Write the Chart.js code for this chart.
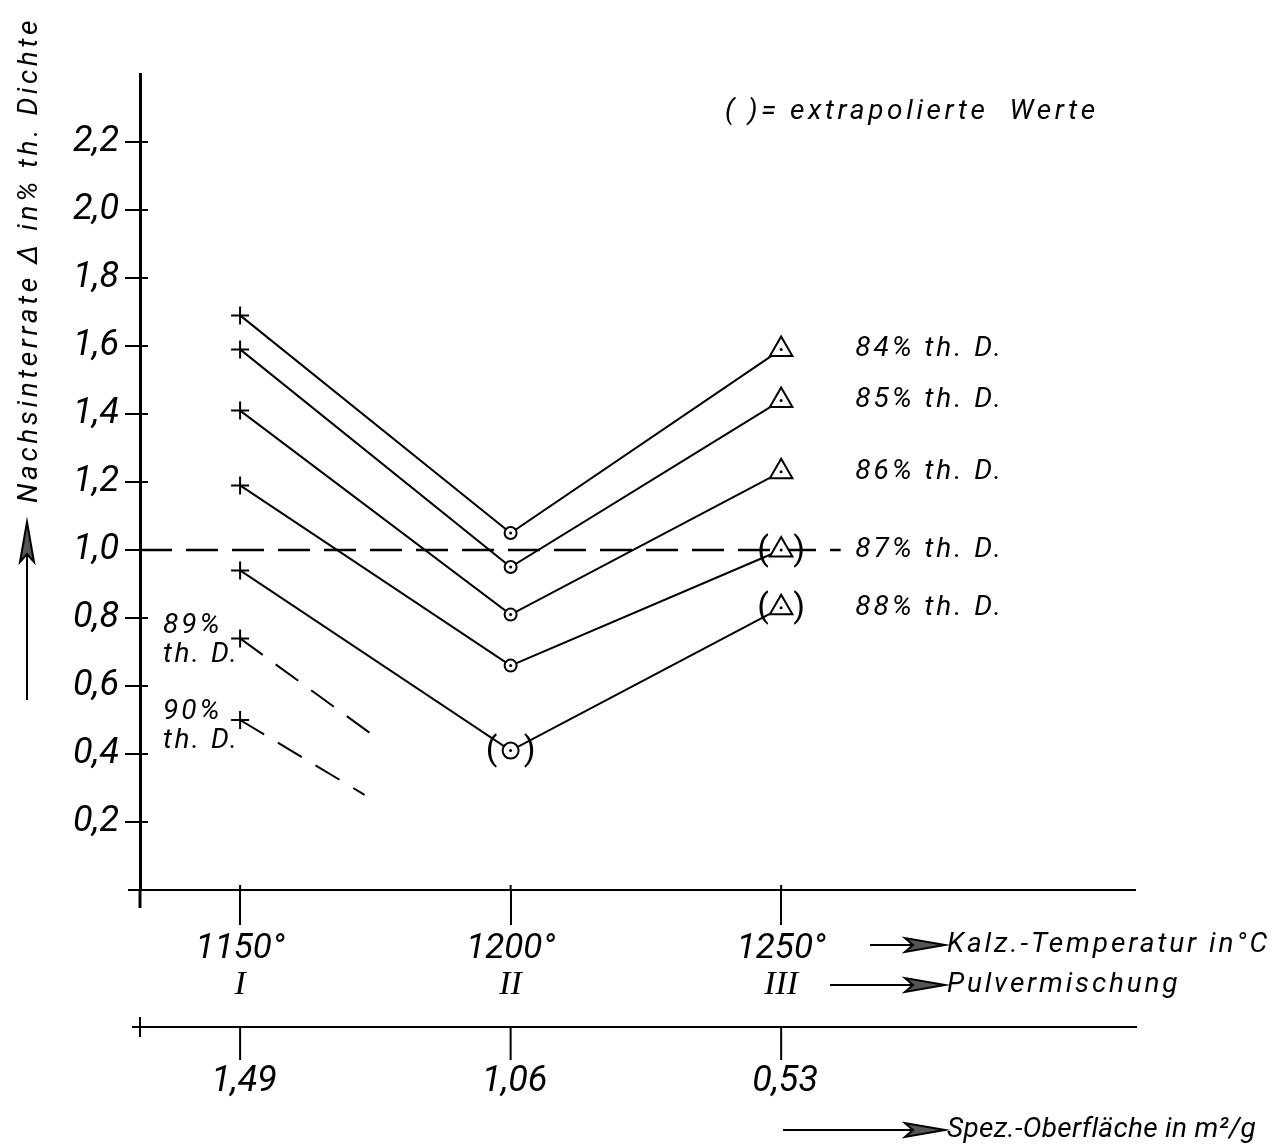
<!DOCTYPE html>
<html>
<head>
<meta charset="utf-8">
<script src="https://cdn.jsdelivr.net/npm/chart.js@4.4.1/dist/chart.umd.min.js"></script>
<style>
html, body { margin: 0; padding: 0; background: #fff; }
</style>
</head>
<body>
<canvas id="grafico" width="1284" height="1148"></canvas>
<script>
const FONTE = 'Roboto, "Liberation Sans", sans-serif';

// eixo x: temperatura de calcinação, mistura de pó, superfície específica
const temperaturas = [1150, 1200, 1250];
const rotulosTemp = ["1150°", "1200°", "1250°"];
const misturas = ["I", "II", "III"];
const superficies = ["1,49", "1,06", "0,53"];

// séries (Nachsinterrate em % th. Dichte)
const nomes = ["84% th. D.", "85% th. D.", "86% th. D.", "87% th. D.", "88% th. D."];
const v84 = [1.69, 1.05, 1.59];
const v85 = [1.59, 0.95, 1.44];
const v86 = [1.41, 0.81, 1.23];
const v87 = [1.19, 0.66, 1.00];
const v88 = [0.94, 0.41, 0.83];
const extr87 = [false, false, true];
const extr88 = [false, true, true];

// linhas tracejadas curtas (89% e 90%)
const x89 = [1150, 1175];
const v89 = [0.74, 0.45];
const x90 = [1150, 1173];
const v90 = [0.50, 0.28];

// linha de referência em 1,0
const xRef = [1131.5, 1261];
const vRef = [1.0, 1.0];

const series = [v84, v85, v86, v87, v88];
const extrapolados = [[false, false, false], [false, false, false], [false, false, false], extr87, extr88];

function pares(xs, ys) {
    return xs.map((x, i) => ({ x: x, y: ys[i] }));
}

const datasets = series.map((v, k) => ({
    label: nomes[k],
    data: pares(temperaturas, v),
    borderColor: "#000",
    borderWidth: 2,
    pointStyle: ["cross", "circle", "triangle"],
    pointRadius: [9, extrapolados[k][1] ? 8 : 6, 13],
    pointBorderWidth: 2,
    pointBorderColor: "#000",
    pointBackgroundColor: "#fff",
    tension: 0
}));

datasets.push({
    label: "89% th. D.",
    data: pares(x89, v89),
    borderColor: "#000",
    borderWidth: 2,
    borderDash: [28, 16],
    pointStyle: "cross",
    pointRadius: [9, 0],
    pointBorderWidth: 2,
    pointBorderColor: "#000"
});
datasets.push({
    label: "90% th. D.",
    data: pares(x90, v90),
    borderColor: "#000",
    borderWidth: 2,
    borderDash: [28, 16],
    pointStyle: "cross",
    pointRadius: [9, 0],
    pointBorderWidth: 2,
    pointBorderColor: "#000"
});
datasets.push({
    label: "1,0",
    data: pares(xRef, vRef),
    borderColor: "#000",
    borderWidth: 2.5,
    borderDash: [32, 14],
    pointRadius: 0
});

function escrever(ctx, s, x, y, tam, alinhar, espaco, estilo, familia) {
    ctx.save();
    ctx.font = (estilo || "italic") + " " + tam + "px " + (familia || FONTE);
    ctx.fillStyle = "#000";
    ctx.textAlign = alinhar || "left";
    ctx.textBaseline = "middle";
    ctx.letterSpacing = (espaco || 0) + "px";
    ctx.fillText(s, x, y);
    ctx.restore();
}

function linha(ctx, x1, y1, x2, y2, larg) {
    ctx.save();
    ctx.strokeStyle = "#000";
    ctx.lineWidth = larg || 2;
    ctx.beginPath();
    ctx.moveTo(x1, y1);
    ctx.lineTo(x2, y2);
    ctx.stroke();
    ctx.restore();
}

// seta desenhada à mão: haste + ponta estreita
function seta(ctx, x1, y1, x2, y2) {
    linha(ctx, x1, y1, x2, y2, 2);
    const ang = Math.atan2(y2 - y1, x2 - x1);
    const comp = 40, meia = 7;
    ctx.save();
    ctx.translate(x2, y2);
    ctx.rotate(ang);
    ctx.beginPath();
    ctx.moveTo(0, 0);
    ctx.lineTo(-comp, -meia);
    ctx.lineTo(-comp + 8, 0);
    ctx.lineTo(-comp, meia);
    ctx.closePath();
    ctx.fillStyle = "#555";
    ctx.fill();
    ctx.strokeStyle = "#000";
    ctx.lineWidth = 2;
    ctx.stroke();
    ctx.restore();
}

const anotacoes = {
    id: "anotacoes",
    afterDraw(chart) {
        const ctx = chart.ctx;
        const xs = chart.scales.x;
        const ys = chart.scales.y;
        const area = chart.chartArea;

        // prolongamentos dos eixos e marcas que cruzam o eixo y
        linha(ctx, area.left, area.bottom, area.left, area.bottom + 18, 3);
        linha(ctx, 128, area.bottom, area.left, area.bottom, 2);
        ys.ticks.forEach(t => {
            if (t.value > 0.01 && t.value < 2.3) {
                const py = ys.getPixelForValue(t.value);
                linha(ctx, area.left, py, area.left + 8, py, 2);
            }
        });
        temperaturas.forEach(t => {
            const px = xs.getPixelForValue(t);
            linha(ctx, px, area.bottom - 5, px, area.bottom, 2);
        });

        // pontos centrais nos círculos e triângulos, parênteses dos valores extrapolados
        series.forEach((v, k) => {
            const meta = chart.getDatasetMeta(k);
            [1, 2].forEach(i => {
                const p = meta.data[i];
                ctx.save();
                ctx.fillStyle = "#000";
                ctx.beginPath();
                ctx.arc(p.x, p.y, 1.5, 0, Math.PI * 2);
                ctx.fill();
                ctx.restore();
            });
            extrapolados[k].forEach((e, i) => {
                if (!e) return;
                const p = meta.data[i];
                const d = i === 1 ? 19 : 18;
                escrever(ctx, "(", p.x - d, p.y + 1, 34, "center", 0, "normal");
                escrever(ctx, ")", p.x + d, p.y + 1, 34, "center", 0, "normal");
            });
            const ult = meta.data[2];
            escrever(ctx, nomes[k], ult.x + 74, ult.y, 28, "left", 3);
        });

        // rótulos das linhas tracejadas
        const p89 = chart.getDatasetMeta(5).data[0];
        const p90 = chart.getDatasetMeta(6).data[0];
        escrever(ctx, "89%", 163, p89.y - 12, 28, "left", 3);
        escrever(ctx, "th. D.", 163, p89.y + 17, 28, "left", 2.5);
        escrever(ctx, "90%", 163, p90.y - 8, 28, "left", 3);
        escrever(ctx, "th. D.", 163, p90.y + 21, 28, "left", 2.5);

        // nota
        escrever(ctx, "(", 725, 112, 28, "left", 0);
        escrever(ctx, ")= extrapolierte  Werte", 748, 112, 28, "left", 3.6);

        // mistura de pó (algarismos romanos)
        temperaturas.forEach((t, i) => {
            const px = xs.getPixelForValue(t);
            escrever(ctx, misturas[i], px, 985, 34, "center", 0, "italic", '"Liberation Serif", serif');
        });

        // segundo eixo: superfície específica
        linha(ctx, 132, 1027, 1137, 1027, 2);
        linha(ctx, area.left, 1017, area.left, 1037, 2);
        temperaturas.forEach((t, i) => {
            const px = xs.getPixelForValue(t);
            linha(ctx, px, 1027, px, 1060, 2);
            escrever(ctx, superficies[i], px + 4, 1082, 36, "center", 0);
        });

        // títulos dos eixos com setas
        seta(ctx, 870, 945, 945, 945);
        escrever(ctx, "Kalz.-Temperatur in°C", 947, 945, 28, "left", 2.9);
        seta(ctx, 830, 985, 945, 985);
        escrever(ctx, "Pulvermischung", 947, 985, 28, "left", 2.8);
        seta(ctx, 783, 1130, 945, 1130);
        escrever(ctx, "Spez.-Oberfläche in m²/g", 947, 1130, 28, "left", 0.3);

        seta(ctx, 27, 700, 27, 522);
        ctx.save();
        ctx.translate(30, 260);
        ctx.rotate(-Math.PI / 2);
        escrever(ctx, "Nachsinterrate Δ in% th. Dichte", 0, 0, 28, "center", 3.6);
        ctx.restore();
    }
};

new Chart(document.getElementById("grafico"), {
    type: "line",
    data: { datasets: datasets },
    options: {
        responsive: false,
        animation: false,
        layout: { padding: { left: 0, right: 149, top: 74, bottom: 158 } },
        plugins: {
            legend: { display: false },
            tooltip: { enabled: false }
        },
        scales: {
            x: {
                type: "linear",
                min: 1131.5,
                max: 1315.4,
                afterBuildTicks: scale => { scale.ticks = temperaturas.map(v => ({ value: v })); },
                afterFit: scale => { scale.height = 100; },
                ticks: {
                    autoSkip: false,
                    maxRotation: 0,
                    padding: 3,
                    color: "#000",
                    font: { family: FONTE, size: 35, style: "italic" },
                    callback: v => rotulosTemp[temperaturas.indexOf(v)]
                },
                grid: { drawOnChartArea: false, tickLength: 35, color: "#000", lineWidth: 2 },
                border: { color: "#000", width: 2 }
            },
            y: {
                min: 0,
                max: 2.4,
                afterFit: scale => { scale.width = 140; },
                ticks: {
                    stepSize: 0.2,
                    padding: 6,
                    color: "#000",
                    font: { family: FONTE, size: 36, style: "italic" },
                    callback: v => (v > 0.01 && v < 2.3) ? v.toFixed(1).replace(".", ",") : ""
                },
                grid: {
                    drawOnChartArea: false,
                    tickLength: 15,
                    lineWidth: 2,
                    color: c => (c.tick && c.tick.value > 0.01 && c.tick.value < 2.3) ? "#000" : "rgba(0,0,0,0)"
                },
                border: { color: "#000", width: 3 }
            }
        }
    },
    plugins: [anotacoes]
});
</script>
</body>
</html>
